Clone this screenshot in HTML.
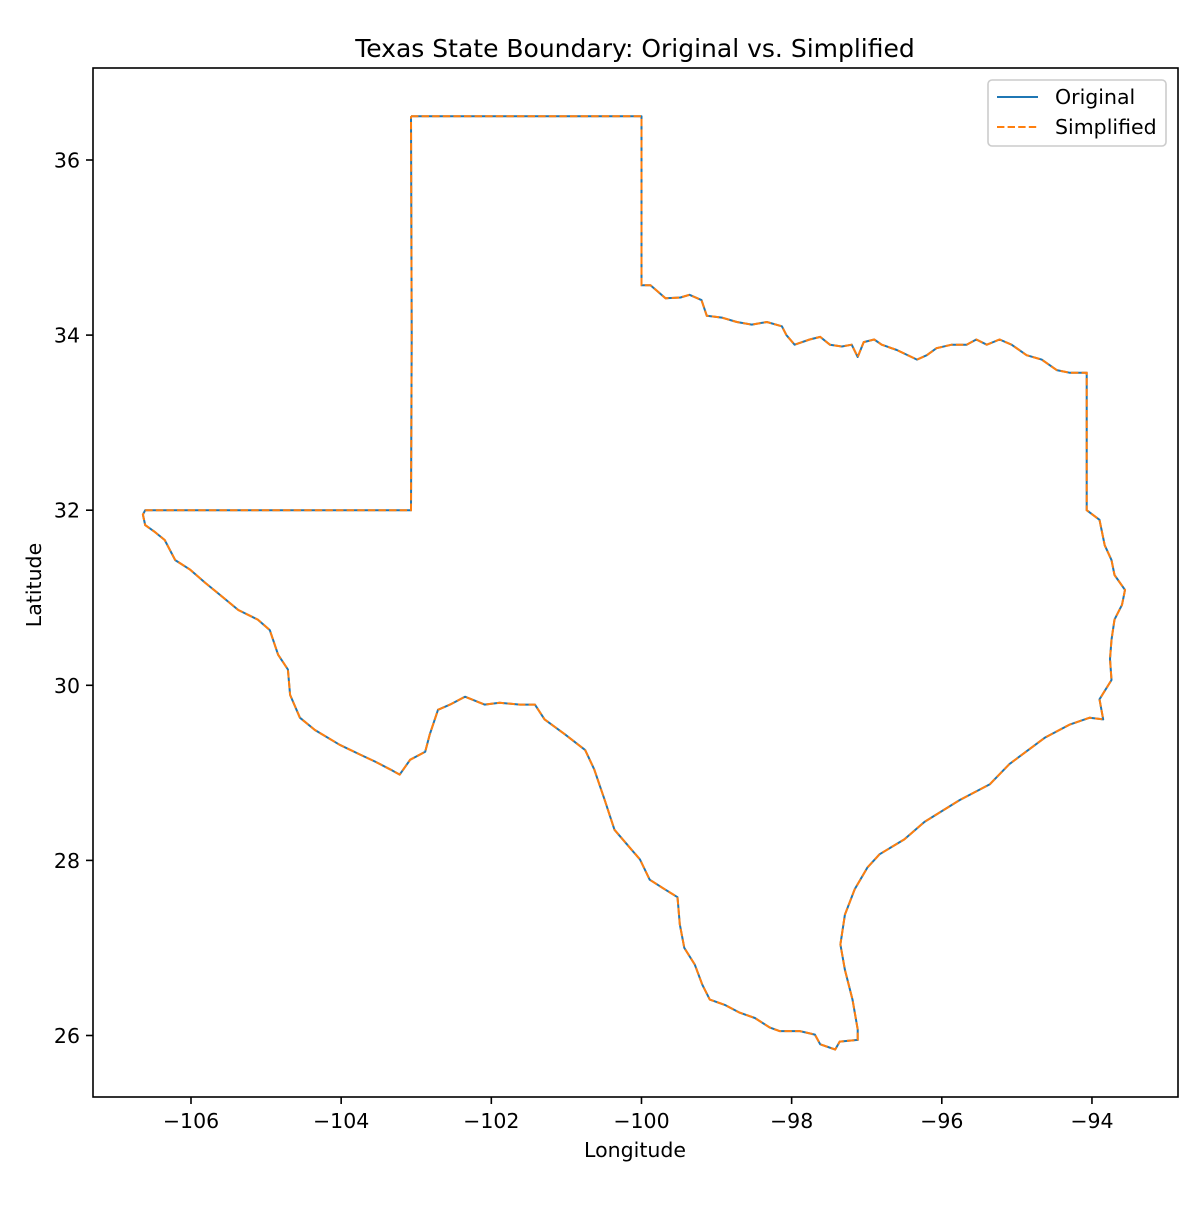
<!DOCTYPE html>
<html><head><meta charset="utf-8"><style>
body{margin:0;background:#fff}
svg text{font-family:"DejaVu Sans","Liberation Sans",sans-serif;fill:#000}
</style></head><body>
<svg id="chart" width="1200" height="1200" viewBox="0 0 1200 1200" xmlns="http://www.w3.org/2000/svg">
<rect width="1200" height="1200" fill="#fff"/>
<text x="635" y="57" font-size="25" text-anchor="middle">Texas State Boundary: Original vs. Simplified</text>
<g id="plot"></g>
<rect x="93" y="68" width="1085" height="1029" fill="none" stroke="#000" stroke-width="1.6"/>
<text x="635" y="1157" font-size="20.5" text-anchor="middle">Longitude</text>
<text x="41" y="585" font-size="20.5" text-anchor="middle" transform="rotate(-90 41 585)">Latitude</text>
<g>
<rect x="988" y="80" width="178" height="66" rx="4" fill="#fff" stroke="#ccc" stroke-width="1.6"/>
<line x1="997" y1="97" x2="1038" y2="97" stroke="#1f77b4" stroke-width="2"/>
<text x="1055" y="104" font-size="20.5">Original</text>
<line x1="997" y1="127" x2="1038" y2="127" stroke="#ff7f0e" stroke-width="2" stroke-dasharray="7.4,3.2"/>
<text x="1055" y="134" font-size="20.5">Simplified</text>
</g>
</svg>
<script>
const xTicks=[-106,-104,-102,-100,-98,-96,-94];
const yTicks=[26,28,30,32,34,36];
const lons=[-103.07,-100.0,-100.0,-99.88,-99.68,-99.48,-99.36,-99.2,-99.13,-98.93,-98.73,-98.53,-98.33,-98.13,-98.07,-97.96,-97.76,-97.62,-97.49,-97.33,-97.2,-97.12,-97.04,-96.9,-96.8,-96.6,-96.33,-96.2,-96.07,-95.87,-95.67,-95.54,-95.4,-95.23,-95.07,-94.87,-94.67,-94.47,-94.3,-94.07,
-94.07,-93.9,-93.83,-93.74,-93.7,-93.56,-93.6,-93.7,-93.74,-93.76,-93.74,-93.9,-93.85,-94.03,
-94.3,-94.63,-95.1,-95.36,-95.76,-96.23,-96.5,-96.83,-96.99,-97.16,-97.29,-97.35,-97.29,-97.19,-97.12,-97.12,
-97.36,-97.42,-97.62,-97.69,-97.89,-98.16,-98.29,-98.49,-98.69,-98.89,-99.09,-99.19,-99.29,-99.43,-99.49,-99.52,-99.69,-99.89,-100.02,-100.16,-100.36,-100.49,-100.63,-100.75,-101.02,-101.29,-101.42,-101.62,-101.89,-102.09,-102.35,-102.55,-102.71,-102.82,-102.88,-103.08,-103.22,-103.35,-103.55,-103.75,-104.02,-104.35,-104.55,-104.68,-104.71,-104.84,-104.95,-105.11,-105.37,-105.61,-105.81,-106.01,-106.21,-106.35,-106.48,-106.61,-106.64,-106.61,
-103.07,-103.06,-103.07];
const lats=[36.5,36.5,34.57,34.57,34.42,34.43,34.46,34.4,34.22,34.2,34.15,34.12,34.15,34.1,34.0,33.89,33.95,33.98,33.89,33.87,33.89,33.75,33.92,33.95,33.89,33.83,33.72,33.77,33.85,33.89,33.89,33.95,33.89,33.95,33.89,33.77,33.72,33.6,33.57,33.57,
32.0,31.89,31.6,31.43,31.26,31.09,30.92,30.75,30.52,30.3,30.06,29.84,29.61,29.63,
29.55,29.4,29.1,28.87,28.69,28.44,28.24,28.07,27.92,27.67,27.38,27.04,26.75,26.41,26.07,25.95,
25.93,25.84,25.9,26.01,26.05,26.05,26.09,26.2,26.26,26.35,26.41,26.58,26.81,27.0,27.27,27.58,27.67,27.78,28.01,28.15,28.35,28.69,29.04,29.26,29.44,29.61,29.78,29.78,29.8,29.78,29.87,29.78,29.72,29.44,29.24,29.15,28.98,29.04,29.13,29.21,29.32,29.49,29.63,29.89,30.18,30.35,30.63,30.75,30.86,31.03,31.17,31.32,31.43,31.66,31.75,31.83,31.95,32.0,
32.0,34.0,36.5];
const sx=v=>191+(v+106)*75.08;
const sy=v=>160+(36-v)*87.55;
const NS='http://www.w3.org/2000/svg';
const g=document.getElementById('plot');
function mk(t,a){const e=document.createElementNS(NS,t);for(const k in a)e.setAttribute(k,a[k]);g.appendChild(e);return e;}
xTicks.forEach(v=>{
 const l=mk('line',{x1:sx(v),x2:sx(v),y1:1097,y2:1104,stroke:'#000','stroke-width':1.6});
 
 
 const t=mk('text',{x:sx(v),y:1128,'font-size':20.5,'text-anchor':'middle'});
 t.textContent='\u2212'+Math.abs(v);
 
 
});
yTicks.forEach(v=>{
 const l=mk('line',{x1:86,x2:93,y1:sy(v),y2:sy(v),stroke:'#000','stroke-width':1.6});
 
 
 const t=mk('text',{x:80,y:sy(v)+7.5,'font-size':20.5,'text-anchor':'end'});
 t.textContent=v;
 
 
});
const d=lons.map((v,i)=>(i?'L':'M')+sx(v).toFixed(1)+','+sy(lats[i]).toFixed(1)).join('');
const p1=mk('path',{d:d,fill:'none',stroke:'#1f77b4','stroke-width':2,'stroke-linejoin':'round'});


const p2=mk('path',{d:d,fill:'none',stroke:'#ff7f0e','stroke-width':2,'stroke-dasharray':'7.4,3.2'});


</script>
</body></html>
